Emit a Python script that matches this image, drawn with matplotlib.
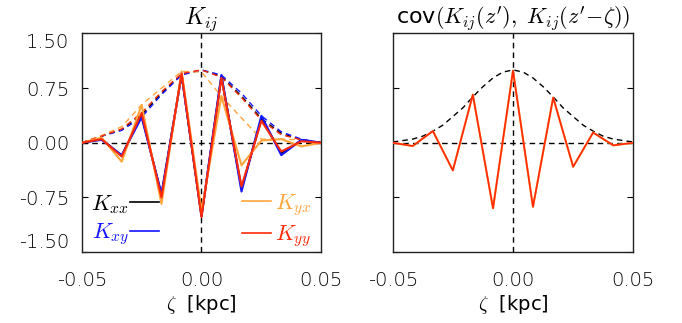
import numpy as np
import matplotlib
matplotlib.use('Agg')
import matplotlib.pyplot as plt
from matplotlib.lines import Line2D

plt.rcParams['mathtext.fontset'] = 'cm'
plt.rcParams['font.family'] = ['DejaVu Sans']
plt.rcParams['font.weight'] = 'light'

# lag grid (kpc)
zeta = [-0.05, -0.0417, -0.0333, -0.025, -0.0167, -0.0083, 0.0,
        0.0083, 0.0167, 0.025, 0.0333, 0.0417, 0.05]

# kernel components
k_xx = [0, 0.05, -0.18, 0.38, -0.72, 0.94, -1.01, 0.91, -0.63, 0.33, -0.14, 0.03, 0]
k_xy = [0, 0.04, -0.17, 0.35, -0.70, 0.93, -1.00, 0.93, -0.67, 0.37, -0.17, 0.04, 0]
k_yx = [0, 0.07, -0.26, 0.52, -0.84, 0.98, -0.93, 0.64, -0.31, 0.03, 0.05, -0.05, 0]
k_yy = [0, 0.05, -0.19, 0.41, -0.75, 0.95, -1.02, 0.89, -0.60, 0.30, -0.12, 0.02, 0]

# envelopes (dashed)
env_xx = [0, 0.09, 0.18, 0.38, 0.68, 0.94, 1.0, 0.91, 0.64, 0.33, 0.13, 0.04, 0]
env_xy = [0, 0.09, 0.17, 0.35, 0.66, 0.93, 1.0, 0.93, 0.68, 0.37, 0.15, 0.05, 0]
env_yx = [0, 0.10, 0.22, 0.52, 0.75, 0.98, 0.97, 0.64, 0.34, 0.05, 0.05, 0.04, 0]
env_yy = [0, 0.09, 0.19, 0.41, 0.70, 0.95, 1.0, 0.90, 0.62, 0.31, 0.11, 0.04, 0]

# covariance panel
cov_k = [0, -0.045, 0.16, -0.38, 0.66, -0.90, 0.99, -0.88, 0.62, -0.33, 0.14, -0.036, 0]
zeta_fine = [-0.05, -0.0458, -0.0417, -0.0375, -0.0333, -0.0292, -0.025, -0.0208,
             -0.0167, -0.0125, -0.0083, -0.0042, 0.0, 0.0042, 0.0083, 0.0125,
             0.0167, 0.0208, 0.025, 0.0292, 0.0333, 0.0375, 0.0417, 0.0458, 0.05]
cov_env = [0.01, 0.03, 0.05, 0.09, 0.16, 0.24, 0.36, 0.48, 0.63, 0.77, 0.89, 0.97, 1.0,
           0.97, 0.89, 0.77, 0.63, 0.48, 0.36, 0.24, 0.16, 0.09, 0.05, 0.03, 0.01]

yticks = [-1.5, -0.75, 0.0, 0.75, 1.5]
xticks = [-0.05, 0.0, 0.05]

c_xx, c_xy, c_yx, c_yy = 'black', '#1414ff', '#ffa53c', '#ff2a0a'
dash = (0, (4, 3))

fig = plt.figure(figsize=(6.82, 3.23), dpi=100)
ax1 = fig.add_axes([0.1198, 0.2198, 0.3513, 0.6765])
ax2 = fig.add_axes([0.5758, 0.2198, 0.3528, 0.6765])

for ax in (ax1, ax2):
    ax.axhline(0, color='black', lw=1, ls=dash, zorder=1)
    ax.axvline(0, color='black', lw=1, ls=dash, zorder=1)
    ax.set_xlim(-0.05, 0.05)
    ax.set_ylim(-1.5, 1.5)
    ax.set_xticks(xticks)
    ax.set_xticklabels(['%.2f' % t for t in xticks])
    ax.set_yticks(yticks)
    ax.tick_params(axis='x', length=0, pad=14, labelsize=14)
    ax.tick_params(axis='y', direction='in', length=4, right=True, labelsize=14, pad=9)
    ax.set_xlabel(r'$\zeta$  [kpc]', fontsize=14, labelpad=2)
    for s in ax.spines.values():
        s.set_linewidth(1.0)
        s.set_color('#222222')

# left panel
series = [(k_xx, env_xx, c_xx), (k_xy, env_xy, c_xy), (k_yx, env_yx, c_yx), (k_yy, env_yy, c_yy)]
for k, e, c in series:
    ax1.plot(zeta, e, color=c, lw=1.0, ls=dash, zorder=2)
for k, e, c in series:
    ax1.plot(zeta, k, color=c, lw=1.5, zorder=3)

ax1.set_yticklabels(['%.2f' % t for t in yticks])
lbls = ax1.get_yticklabels()
lbls[0].set_va('bottom')
lbls[-1].set_va('top')
ax1.set_title(r'$K_{ij}$', fontsize=17, pad=4)

h_left = [Line2D([], [], color=c_xx, lw=1.2), Line2D([], [], color=c_xy, lw=1.2)]
leg1 = ax1.legend(h_left, [r'$K_{xx}$', r'$K_{xy}$'], loc='center left',
                  bbox_to_anchor=(0.04, 0.145), frameon=False, markerfirst=False,
                  handlelength=1.3, handletextpad=0.05, labelspacing=0.25,
                  borderpad=0, borderaxespad=0, fontsize=16, labelcolor='linecolor')
ax1.add_artist(leg1)
h_right = [Line2D([], [], color=c_yx, lw=1.2), Line2D([], [], color=c_yy, lw=1.2)]
ax1.legend(h_right, [r'$K_{yx}$', r'$K_{yy}$'], loc='center right',
           bbox_to_anchor=(0.96, 0.145), frameon=False,
           handlelength=1.3, handletextpad=0.2, labelspacing=0.25,
           borderpad=0, borderaxespad=0, fontsize=16, labelcolor='linecolor')

# right panel
ax2.plot(zeta_fine, cov_env, color='black', lw=1.0, ls=dash, zorder=2)
ax2.plot(zeta, cov_k, color=c_yx, lw=1.5, zorder=3)
ax2.plot(zeta, cov_k, color=c_yy, lw=1.2, zorder=4)
ax2.set_yticklabels([])
ax2.set_title(r"cov$(K_{ij}(z'),\ K_{ij}(z'\!-\!\zeta))$", fontsize=16, pad=4)

fig.savefig('out.png', dpi=100)
